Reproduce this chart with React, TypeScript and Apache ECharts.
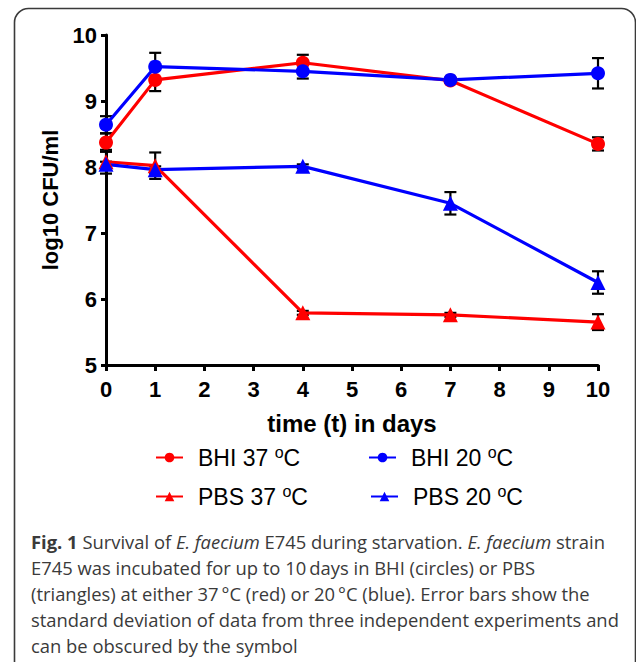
import React, { useEffect, useRef } from "react";
import * as echarts from "echarts";

const days = [0, 1, 4, 7, 10];
const xTicks = [0, 1, 2, 3, 4, 5, 6, 7, 8, 9, 10];
const yTicks = [5, 6, 7, 8, 9, 10];

const seriesNames = ["BHI 37 oC", "BHI 20 oC", "PBS 37 oC", "PBS 20 oC"];
const legendLabels = [
  "{n|BHI 37 }{sup|o}{n|C}",
  "{n|BHI 20 }{sup|o}{n|C}",
  "{n|PBS 37 }{sup|o}{n|C}",
  "{n|PBS 20 }{sup|o}{n|C}",
];

const bhi37 = [8.37, 9.32, 9.58, 9.31, 8.35];
const bhi37Sd = [0.14, 0.17, 0.12, 0.03, 0.1];
const bhi20 = [8.64, 9.52, 9.45, 9.32, 9.42];
const bhi20Sd = [0.13, 0.21, 0.11, 0.03, 0.23];
const pbs37 = [8.08, 8.02, 5.79, 5.76, 5.65];
const pbs37Sd = [0.18, 0.2, 0.03, 0.03, 0.12];
const pbs20 = [8.04, 7.96, 8.01, 7.45, 6.25];
const pbs20Sd = [0.04, 0.05, 0.03, 0.17, 0.17];

const captionLines = [
  "{b|Fig. 1} Survival of {i|E. faecium} E745 during starvation. {i|E. faecium} strain",
  "E745 was incubated for up to 10\u2009days in BHI (circles) or PBS",
  "(triangles) at either 37\u2009°C (red) or 20\u2009°C (blue). Error bars show the",
  "standard deviation of data from three independent experiments and",
  "can be obscured by the symbol",
];

const RED = "#ff0000";
const BLUE = "#0000ff";

export default function App() {
  const ref = useRef<HTMLDivElement>(null);
  useEffect(() => {
    if (!ref.current) return;
    const chart = echarts.init(ref.current, null, { renderer: "svg" });

    const sets = [
      { name: seriesNames[0], vals: bhi37, sd: bhi37Sd, color: RED, symbol: "circle" },
      { name: seriesNames[1], vals: bhi20, sd: bhi20Sd, color: BLUE, symbol: "circle" },
      { name: seriesNames[2], vals: pbs37, sd: pbs37Sd, color: RED, symbol: "triangle" },
      { name: seriesNames[3], vals: pbs20, sd: pbs20Sd, color: BLUE, symbol: "triangle" },
    ];

    const errorSeries = sets.map((s) => ({
      type: "custom",
      silent: true,
      z: 1,
      data: days.map((d, i) => [d, s.vals[i], s.sd[i]]),
      renderItem: (params: any, api: any) => {
        const x = api.value(0);
        const y = api.value(1);
        const e = api.value(2);
        const top = api.coord([x, y + e]);
        const bot = api.coord([x, y - e]);
        const hw = 6;
        const st = { stroke: "#000", lineWidth: 2.2 };
        return {
          type: "group",
          children: [
            { type: "line", shape: { x1: top[0], y1: top[1], x2: bot[0], y2: bot[1] }, style: st },
            { type: "line", shape: { x1: top[0] - hw, y1: top[1], x2: top[0] + hw, y2: top[1] }, style: st },
            { type: "line", shape: { x1: bot[0] - hw, y1: bot[1], x2: bot[0] + hw, y2: bot[1] }, style: st },
          ],
        };
      },
    }));

    const lineSeries = sets.map((s) => ({
      type: "line",
      name: s.name,
      z: 3,
      data: days.map((d, i) => [d, s.vals[i]]),
      symbol: s.symbol,
      symbolSize: s.symbol === "circle" ? 14 : 15,
      showAllSymbol: true,
      lineStyle: { color: s.color, width: 3.2 },
      itemStyle: { color: s.color },
    }));

    const legendPos = [
      { left: 155, top: 444 },
      { left: 368, top: 444 },
      { left: 155, top: 483 },
      { left: 370, top: 483 },
    ];

    const legends = seriesNames.map((n, i) => ({
      data: [n],
      left: legendPos[i].left,
      top: legendPos[i].top,
      padding: 0,
      itemWidth: 27,
      itemHeight: 12,
      selectedMode: false,
      formatter: () => legendLabels[i],
      textStyle: {
        color: "#000",
        fontSize: 23,
        fontFamily: "Liberation Sans",
        padding: [0, 0, 0, 10],
        rich: {
          n: {
            fontSize: 23,
            fontFamily: "Liberation Sans",
            color: "#000",
            lineHeight: 23,
            verticalAlign: "top",
          },
          sup: {
            fontSize: 16,
            fontFamily: "Liberation Sans",
            color: "#000",
            height: 12,
            verticalAlign: "top",
          },
        },
      },
    }));

    const labelFont = {
      color: "#000",
      fontSize: 22,
      fontWeight: "bold",
      fontFamily: "Liberation Sans",
    };

    chart.setOption({
      animation: false,
      backgroundColor: "#fff",
      grid: { left: 106, right: 38, top: 35, bottom: 297, containLabel: false },
      legend: legends,
      xAxis: {
        type: "value",
        min: xTicks[0],
        max: xTicks[xTicks.length - 1],
        interval: 1,
        name: "time (t) in days",
        nameLocation: "middle",
        nameGap: 46,
        nameTextStyle: { color: "#000", fontSize: 24, fontWeight: "bold", fontFamily: "Liberation Sans" },
        axisLine: { lineStyle: { color: "#000", width: 3 } },
        axisTick: { length: 6, lineStyle: { color: "#000", width: 3 } },
        axisLabel: { ...labelFont, margin: 13 },
        splitLine: { show: false },
      },
      yAxis: {
        type: "value",
        min: yTicks[0],
        max: yTicks[yTicks.length - 1],
        interval: 1,
        name: "log10 CFU/ml",
        nameLocation: "middle",
        nameGap: 42,
        nameTextStyle: { color: "#000", fontSize: 22, fontWeight: "bold", fontFamily: "Liberation Sans" },
        axisLine: { lineStyle: { color: "#000", width: 3 } },
        axisTick: { length: 5, lineStyle: { color: "#000", width: 3 } },
        axisLabel: { ...labelFont, margin: 9 },
        splitLine: { show: false },
      },
      graphic: [
        {
          type: "rect",
          z: -1,
          shape: { x: 14.5, y: 8.5, width: 621, height: 700, r: 14 },
          style: { fill: "none", stroke: "#3a3a3a", lineWidth: 1.6 },
          silent: true,
        },
        {
          type: "text",
          x: 31,
          y: 528,
          style: {
            text: captionLines.join("\n"),
            fill: "#3a3a3a",
            fontSize: 18.4,
            fontFamily: "Open Sans",
            lineHeight: 26,
            verticalAlign: "top",
            rich: {
              b: { fontWeight: "bold", fontSize: 18.4, fontFamily: "Open Sans", fill: "#3a3a3a", lineHeight: 26 },
              i: { fontStyle: "italic", fontSize: 18.4, fontFamily: "Open Sans", fill: "#3a3a3a", lineHeight: 26 },
            },
          },
        },
      ],
      series: [...errorSeries, ...lineSeries],
    });
    return () => chart.dispose();
  }, []);

  return (
    <div style={{ position: "fixed", left: 0, top: 0, width: 636, height: 662, background: "#fff" }}>
      <div ref={ref} style={{ width: 636, height: 662 }} />
    </div>
  );
}
